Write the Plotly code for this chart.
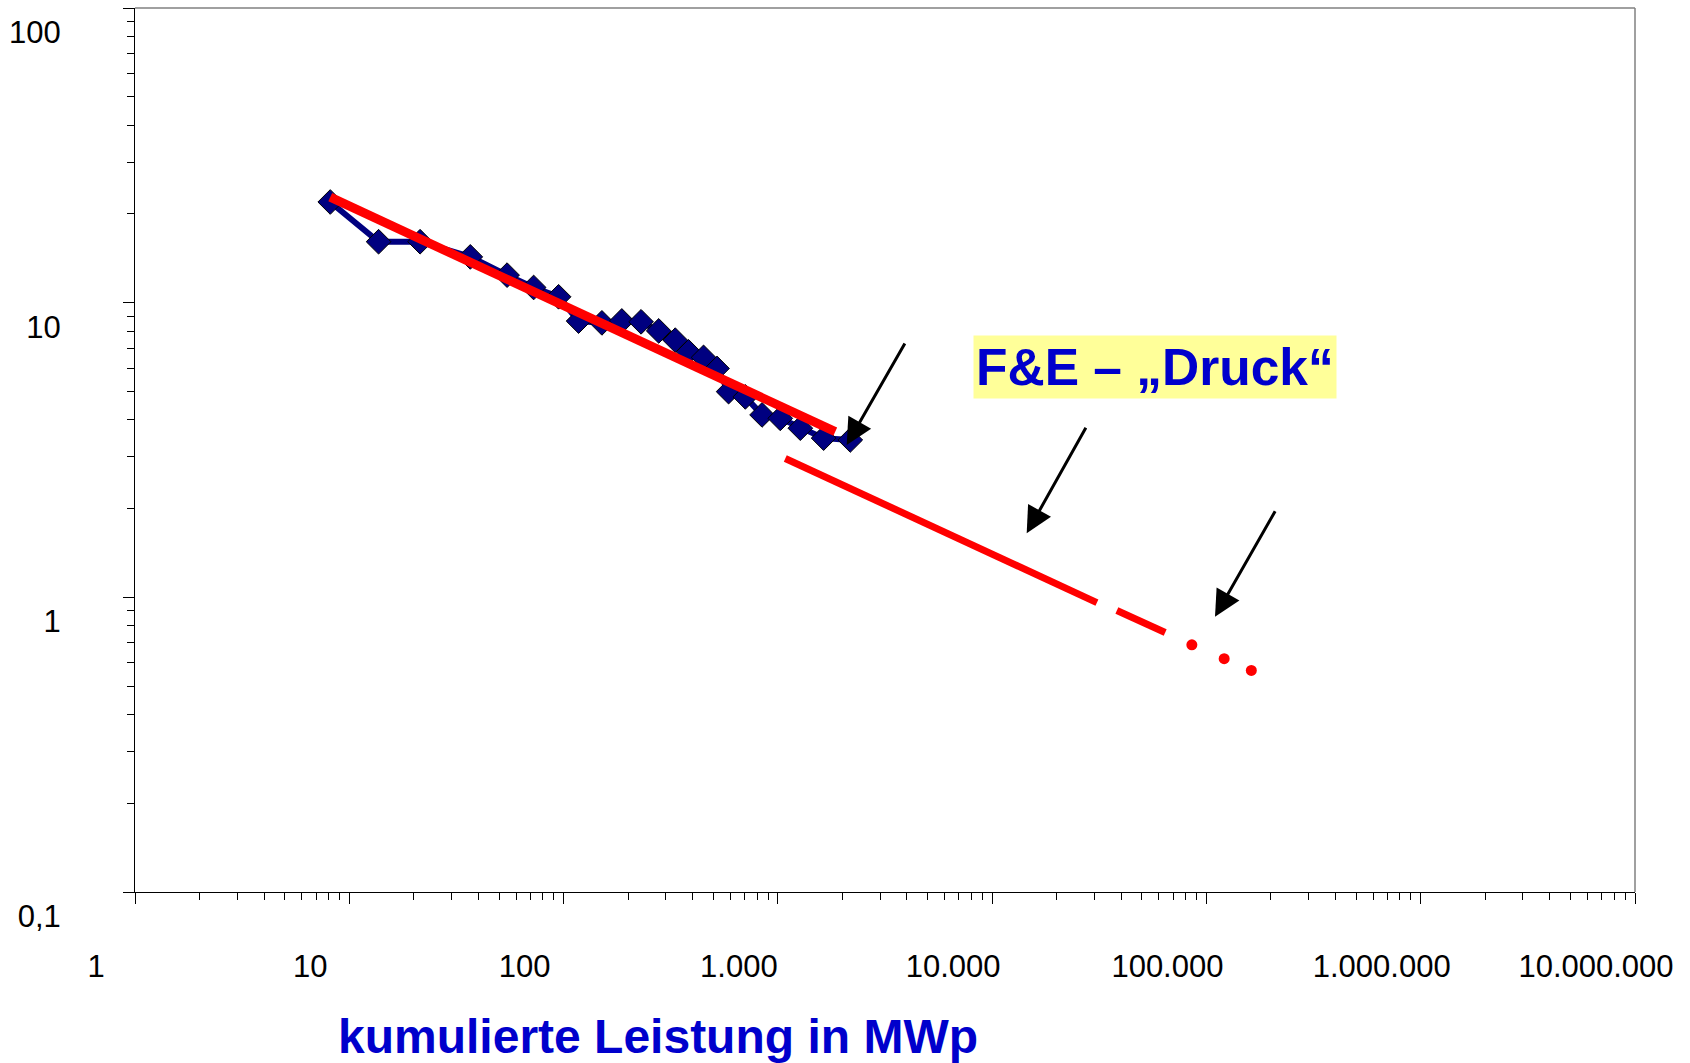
import plotly.graph_objects as go

# ---------------- data ----------------
blue_x = [8.15, 13.7, 21.4, 36.7, 54.5, 72.5, 94.8, 117.5, 151, 187, 230, 278,
          332, 383, 450, 520, 589, 705, 844, 1026, 1273, 1635, 2177]
blue_y = [21.96, 16.1, 16.1, 14.3, 12.4, 11.26, 10.47, 8.66, 8.54, 8.67, 8.61,
          8.02, 7.46, 6.81, 6.52, 5.98, 4.99, 4.79, 4.16, 4.05, 3.75, 3.47, 3.42]

fit_x = [8.15, 1853]
fit_y = [22.8, 3.65]

proj_x = [1083, 30830, None, 38200, 64200]
proj_y = [2.96, 0.960, None, 0.902, 0.760]

dots_x = [85500, 121000, 162000]
dots_y = [0.690, 0.619, 0.565]

x_tickvals = [1, 10, 100, 1000, 10000, 100000, 1000000, 10000000]
x_ticktext = ["1", "10", "100", "1.000", "10.000", "100.000", "1.000.000", "10.000.000"]
y_tickvals = [0.1, 1, 10, 100]
y_ticktext = ["0,1", "1", "10", "100"]

x_title = "kumulierte Leistung in MWp"
box_text = "F&E – „Druck“"

# ---------------- layout constants ----------------
W, H = 1690, 1063
ML, MR, MT, MB = 135, 55, 8, 171
PW, PH = W - ML - MR, H - MT - MB
FONT = "Liberation Sans, Arial, sans-serif"
BLUE_TXT = "#0000CC"


def px2paper(px, py):
    return (px - ML) / PW, (H - MB - py) / PH


x_minor = [k * 10 ** e for e in range(0, 7) for k in range(2, 10)]
y_minor = [k * 10 ** e for e in range(-1, 2) for k in range(2, 10)]

fig = go.Figure()
fig.add_trace(go.Scatter(
    x=blue_x, y=blue_y, mode="lines+markers",
    line=dict(color="#000080", width=6),
    marker=dict(symbol="diamond", size=19, color="#000080",
                line=dict(color="black", width=1)),
    showlegend=False, hoverinfo="skip"))
fig.add_trace(go.Scatter(
    x=fit_x, y=fit_y, mode="lines",
    line=dict(color="#FF0000", width=9),
    showlegend=False, hoverinfo="skip"))
fig.add_trace(go.Scatter(
    x=proj_x, y=proj_y, mode="lines",
    line=dict(color="#FF0000", width=7),
    showlegend=False, hoverinfo="skip", connectgaps=False))
fig.add_trace(go.Scatter(
    x=dots_x, y=dots_y, mode="markers",
    marker=dict(symbol="circle", size=11, color="#FF0000"),
    showlegend=False, hoverinfo="skip"))

axis_common = dict(
    type="log", showgrid=False, zeroline=False,
    showline=True, linecolor="black", linewidth=1,
    ticks="outside", ticklen=11, tickwidth=1, tickcolor="black",
    tickfont=dict(family=FONT, size=31, color="black"),
)

fig.update_xaxes(
    range=[0, 7], tickmode="array", tickvals=x_tickvals, ticktext=x_ticktext,
    minor=dict(tickmode="array", tickvals=x_minor, ticks="outside", ticklen=7,
               tickwidth=1, tickcolor="black", showgrid=False),
    ticklabelshift=-39, ticklabelstandoff=36,
    **axis_common)
fig.update_yaxes(
    range=[-1, 2], tickmode="array", tickvals=y_tickvals, ticktext=y_ticktext,
    minor=dict(tickmode="array", tickvals=y_minor, ticks="outside", ticklen=7,
               tickwidth=1, tickcolor="black", showgrid=False),
    ticklabelshift=24, ticklabelstandoff=56,
    **axis_common)

annotations = []
# x-axis title
tx, ty = px2paper(658, 1036)
annotations.append(dict(
    x=tx, y=ty, xref="paper", yref="paper", xanchor="center", yanchor="middle",
    text=f"<b>{x_title}</b>", showarrow=False,
    font=dict(family=FONT, size=48, color=BLUE_TXT)))
# F&E box
bx, by = px2paper(1154.5, 367)
annotations.append(dict(
    x=bx, y=by, xref="paper", yref="paper", xanchor="center", yanchor="middle",
    text=f"<b>{box_text}</b>", showarrow=False, bgcolor="#FFFF99", borderpad=2,
    font=dict(family=FONT, size=51.5, color=BLUE_TXT)))
# arrows (tip pixel, tail offset)
for tip, off in [((846.7, 445), (59, -103)),
                 ((1026.7, 533.3), (60, -107)),
                 ((1215, 616.7), (61, -107))]:
    ax_, ay_ = px2paper(*tip)
    annotations.append(dict(
        x=ax_, y=ay_, xref="paper", yref="paper", text="", showarrow=True,
        ax=off[0], ay=off[1], arrowhead=2, arrowsize=1.75, arrowwidth=2.4 * 1.25,
        arrowcolor="black"))

shapes = [
    dict(type="line", xref="paper", yref="paper", x0=0, y0=1, x1=1, y1=1,
         line=dict(color="#808080", width=1.5)),
    dict(type="line", xref="paper", yref="paper", x0=1, y0=0, x1=1, y1=1,
         line=dict(color="#808080", width=1.5)),
]

fig.update_layout(
    width=W, height=H, autosize=False,
    margin=dict(l=ML, r=MR, t=MT, b=MB, pad=0),
    paper_bgcolor="white", plot_bgcolor="white",
    annotations=annotations, shapes=shapes,
    font=dict(family=FONT),
)

fig.write_html("out.html", config={"displayModeBar": False},
               post_script="document.body.style.margin='0px';document.body.style.overflow='hidden';")
